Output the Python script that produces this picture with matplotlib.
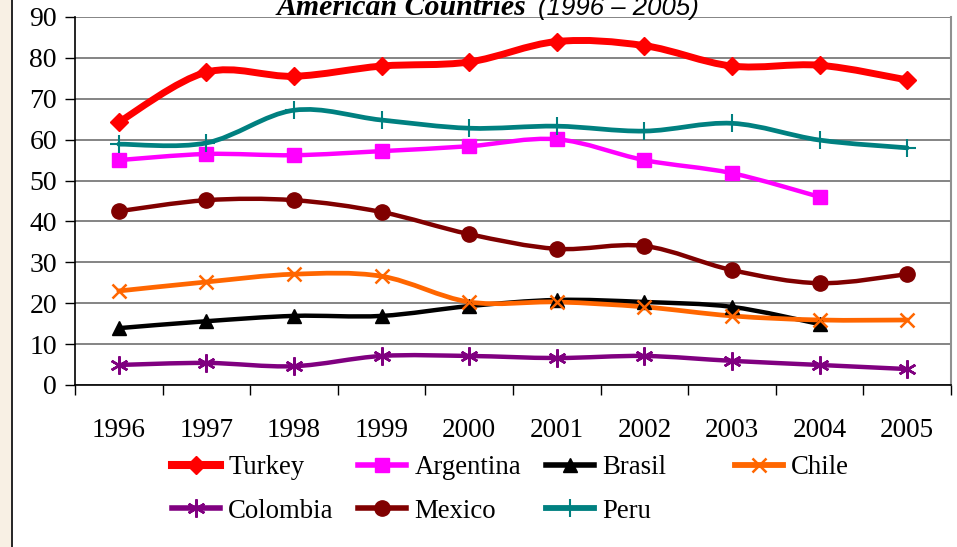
import matplotlib
matplotlib.use('Agg')
import matplotlib.pyplot as plt
from matplotlib.path import Path
from matplotlib.patches import PathPatch, Rectangle
from matplotlib.lines import Line2D
import numpy as np

# chart data
years = ['1996', '1997', '1998', '1999', '2000', '2001', '2002', '2003', '2004', '2005']
turkey = [64.3, 76.5, 75.5, 78.0, 79.0, 84.0, 83.0, 78.0, 78.2, 74.6]
argentina = [55.0, 56.5, 56.2, 57.2, 58.4, 60.1, 55.0, 51.8, 46.0, None]
brasil = [13.9, 15.6, 16.9, 16.9, 19.3, 20.8, 20.3, 19.1, 14.9, None]
chile = [23.0, 25.2, 27.1, 26.6, 20.3, 20.3, 19.1, 16.9, 15.9, 15.9]
colombia = [4.9, 5.4, 4.6, 7.1, 7.1, 6.6, 7.1, 5.9, 4.9, 3.9]
mexico = [42.5, 45.2, 45.2, 42.3, 36.9, 33.3, 34.0, 28.1, 24.9, 27.1]
peru = [58.9, 59.2, 67.2, 64.8, 62.8, 63.3, 62.1, 64.0, 59.9, 58.0]

# name, values, colour, marker, marker size, line width, marker edge width
series = [
    ('Turkey', turkey, '#ff0000', 'D', 9, 5, 1),
    ('Argentina', argentina, '#ff00ff', 's', 10.5, 3.2, 1),
    ('Brasil', brasil, '#000000', '^', 10, 3.2, 1),
    ('Chile', chile, '#ff6600', 'x', 10, 3.4, 1.8),
    ('Colombia', colombia, '#800080', (6, 2, 0), 13, 3.2, 1.8),
    ('Mexico', mexico, '#800000', 'o', 11, 3.2, 1),
    ('Peru', peru, '#008080', '+', 13, 3.4, 1.5),
]

W, H = 957, 547
fig = plt.figure(figsize=(W / 100, H / 100), dpi=100)
fig.patch.set_facecolor('white')
plt.rcParams['font.family'] = 'Liberation Serif'

# beige strip on the left edge
fig.patches.append(Rectangle((0, 0), 11 / W, 1, transform=fig.transFigure,
                             facecolor='#f8f0e4', edgecolor='none', zorder=0))
fig.add_artist(Line2D([11.5 / W, 11.5 / W], [0, 1], transform=fig.transFigure,
                      color='black', lw=1.2))

ax = fig.add_axes([75 / W, (H - 385) / H, 876 / W, 368 / H])
ax.set_xlim(-0.5, 9.5)
ax.set_ylim(0, 90)
ax.set_yticks(range(0, 91, 10))
ax.yaxis.grid(True, color='#707070', lw=1.2)
ax.set_axisbelow(True)

ax.set_xticks(np.arange(-0.5, 10, 1))
ax.set_xticklabels([])
ax.set_xticks(range(10), minor=True)
ax.set_xticklabels(years, minor=True)
ax.tick_params(axis='x', which='major', length=7, width=1, direction='out')
ax.tick_params(axis='x', which='minor', length=0, pad=24, labelsize=19.5)
ax.tick_params(axis='y', length=7, width=1, pad=6, labelsize=20)

ax.spines['top'].set_visible(False)
ax.spines['right'].set_color('#909090')
ax.spines['right'].set_linewidth(1.5)
ax.spines['left'].set_linewidth(1.2)
ax.spines['bottom'].set_linewidth(1.2)


def smooth_path(xs, ys):
    pts = np.column_stack([xs, ys])
    n = len(pts)
    verts = [pts[0]]
    codes = [Path.MOVETO]
    for i in range(n - 1):
        p0 = pts[max(i - 1, 0)]
        p1 = pts[i]
        p2 = pts[i + 1]
        p3 = pts[min(i + 2, n - 1)]
        c1 = p1 + (p2 - p0) / 6
        c2 = p2 - (p3 - p1) / 6
        verts += [c1, c2, p2]
        codes += [Path.CURVE4] * 3
    return Path(verts, codes)


for name, vals, color, marker, ms, lw, mew in series:
    xs = [i for i, v in enumerate(vals) if v is not None]
    ys = [v for v in vals if v is not None]
    ax.add_patch(PathPatch(smooth_path(xs, ys), facecolor='none', edgecolor=color,
                           lw=lw, capstyle='round', joinstyle='round', zorder=3))
    ax.plot(xs, ys, linestyle='none', marker=marker, markersize=ms, color=color,
            markeredgewidth=mew, zorder=4, clip_on=False)

# title, cut off at the top like the reference
fig.text(277 / W, 1 - 15 / H, 'American Countries', fontsize=21.5, fontweight='bold',
         fontstyle='italic', va='baseline', ha='left')
fig.text(538 / W, 1 - 15 / H, '(1996 \u2013 2005)', fontsize=18.5, fontstyle='italic',
         family='Liberation Sans', va='baseline', ha='left')

# legend: one entry per slot, laid out in a 4-column grid
slots = [(172, 468), (358, 468), (546, 468), (735, 468),
         (172, 511), (358, 511), (546, 511)]
for (name, vals, color, marker, ms, lw, mew), (sx, sy) in zip(series, slots):
    h = Line2D([], [], color=color, lw=lw + 0.8, marker=marker, markersize=ms,
               markeredgewidth=mew)
    fig.legend([h], [name], loc='center left', bbox_to_anchor=(sx / W, 1 - sy / H),
               frameon=False, fontsize=19.3, borderpad=0, borderaxespad=0,
               handlelength=1.8, handletextpad=0.3)

plt.savefig('out.png', dpi=100)
